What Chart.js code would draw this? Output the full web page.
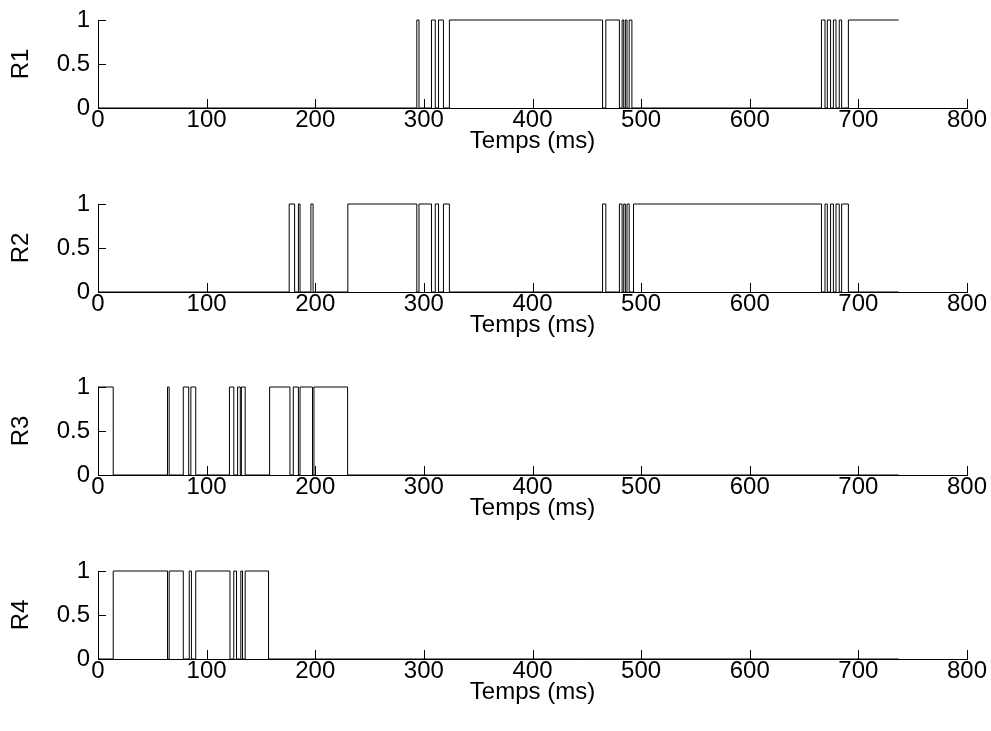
<!DOCTYPE html>
<html>
<head>
<meta charset="utf-8">
<script src="https://cdn.jsdelivr.net/npm/chart.js@4"></script>
<style>
  body { margin: 0; background: #fff; width: 991px; height: 731px; overflow: hidden; position: relative; }
  .plot { position: absolute; left: 0; width: 991px; height: 184px; }
</style>
</head>
<body>
<div class="plot" style="top:0px"><canvas id="r1" width="991" height="184"></canvas></div>
<div class="plot" style="top:184px"><canvas id="r2" width="991" height="184"></canvas></div>
<div class="plot" style="top:367px"><canvas id="r3" width="991" height="184"></canvas></div>
<div class="plot" style="top:551px"><canvas id="r4" width="991" height="184"></canvas></div>
<script>
// each signal : times (ms) where the level changes, and the level from that time on
const r1Times  = [0, 293.5, 295.5, 307, 310.5, 313.5, 318, 323.5, 464.5, 467.5, 480, 482.5, 484, 485.5, 487, 489, 491.5, 666, 669.3, 671.4, 674.4, 677, 679.4, 682.4, 684.6, 690.8, 737];
const r1Levels = [0, 1, 0, 1, 0, 1, 0, 1, 0, 1, 0, 1, 0, 1, 0, 1, 0, 1, 0, 1, 0, 1, 0, 1, 0, 1, 1];

const r2Times  = [0, 176, 181, 184.5, 186, 196, 198, 230, 293.5, 295.5, 307, 310.5, 313.5, 318, 323.5, 464.5, 467.5, 480, 482.5, 484, 485.5, 487, 489, 493, 666, 669.3, 671.4, 674.4, 677, 679.4, 682.4, 684.6, 690.8, 737];
const r2Levels = [0, 1, 0, 1, 0, 1, 0, 1, 0, 1, 0, 1, 0, 1, 0, 1, 0, 1, 0, 1, 0, 1, 0, 1, 0, 1, 0, 1, 0, 1, 0, 1, 0, 0];

const r3Times  = [0, 14, 64, 65.5, 78.5, 83.5, 85.5, 90, 121, 125, 128.5, 131, 132, 135.5, 158, 176.7, 179.8, 184.5, 186, 197.5, 198.8, 229.8, 737];
const r3Levels = [1, 0, 1, 0, 1, 0, 1, 0, 1, 0, 1, 0, 1, 0, 1, 0, 1, 0, 1, 0, 1, 0, 0];

const r4Times  = [0, 14, 64, 65.5, 78.5, 84, 86, 90, 121.5, 125, 127.5, 131.5, 133, 135.5, 157, 737];
const r4Levels = [0, 1, 0, 1, 0, 1, 0, 1, 0, 1, 0, 1, 0, 1, 0, 0];

const channelNames = ['R1', 'R2', 'R3', 'R4'];
const xTickValues = [0, 100, 200, 300, 400, 500, 600, 700, 800];
const yTickValues = [0, 0.5, 1];

const FONT = 'Liberation Sans, Arial, sans-serif';

// matlab style ticks, pointing inside the axes
const inwardTicks = {
  id: 'inwardTicks',
  afterDraw(chart) {
    const ctx = chart.ctx, a = chart.chartArea;
    const xs = chart.scales.x, ys = chart.scales.y;
    ctx.save();
    ctx.strokeStyle = '#000';
    ctx.lineWidth = 1;
    ctx.beginPath();
    xs.ticks.forEach(function(t) {
      const px = Math.round(xs.getPixelForValue(t.value)) + 0.5;
      ctx.moveTo(px, a.bottom);
      ctx.lineTo(px, a.bottom - 9);
    });
    ys.ticks.forEach(function(t) {
      const py = Math.round(ys.getPixelForValue(t.value)) + 0.5;
      ctx.moveTo(a.left, py);
      ctx.lineTo(a.left + 8, py);
    });
    ctx.stroke();
    ctx.restore();
  }
};

var makePlot = function(id, name, times, levels)
{
  new Chart(document.getElementById(id), {
    type: 'line',
    data: {
      datasets: [{
        data: times.map(function(t, i) { return { x: t, y: levels[i] }; }),
        borderColor: '#000',
        borderWidth: 1,
        stepped: 'before',
        pointRadius: 0,
        fill: false,
        clip: 4
      }]
    },
    options: {
      responsive: false,
      animation: false,
      devicePixelRatio: 1,
      layout: { padding: { top: 20, right: 24, bottom: 0, left: 0 } },
      plugins: { legend: { display: false }, tooltip: { enabled: false } },
      scales: {
        x: {
          type: 'linear',
          min: 0,
          max: 800,
          afterBuildTicks: function(s) { s.ticks = xTickValues.map(function(v) { return { value: v }; }); },
          afterFit: function(s) { s.height = 76; },
          grid: { display: false, drawTicks: false },
          border: { display: true, color: '#000', width: 1 },
          ticks: { color: '#000', padding: 0, maxRotation: 0, autoSkip: false, callback: function(v) { return String(v); }, font: { family: FONT, size: 24, lineHeight: 1 } },
          title: { display: true, text: 'Temps (ms)', color: '#000', padding: { top: 0, bottom: 28 }, font: { family: FONT, size: 24 } }
        },
        y: {
          min: 0,
          max: 1,
          afterBuildTicks: function(s) { s.ticks = yTickValues.map(function(v) { return { value: v }; }); },
          afterFit: function(s) { s.width = 98; },
          grid: { display: false, drawTicks: false },
          border: { display: true, color: '#000', width: 1 },
          ticks: { color: '#000', padding: 8, callback: function(v) { return String(v); }, font: { family: FONT, size: 24, lineHeight: 1 } },
          title: { display: true, text: name, color: '#000', padding: { top: 7, bottom: 0 }, font: { family: FONT, size: 24 } }
        }
      }
    },
    plugins: [inwardTicks]
  });
}

makePlot('r1', channelNames[0], r1Times, r1Levels);
makePlot('r2', channelNames[1], r2Times, r2Levels);
makePlot('r3', channelNames[2], r3Times, r3Levels);
makePlot('r4', channelNames[3], r4Times, r4Levels);
</script>
</body>
</html>
